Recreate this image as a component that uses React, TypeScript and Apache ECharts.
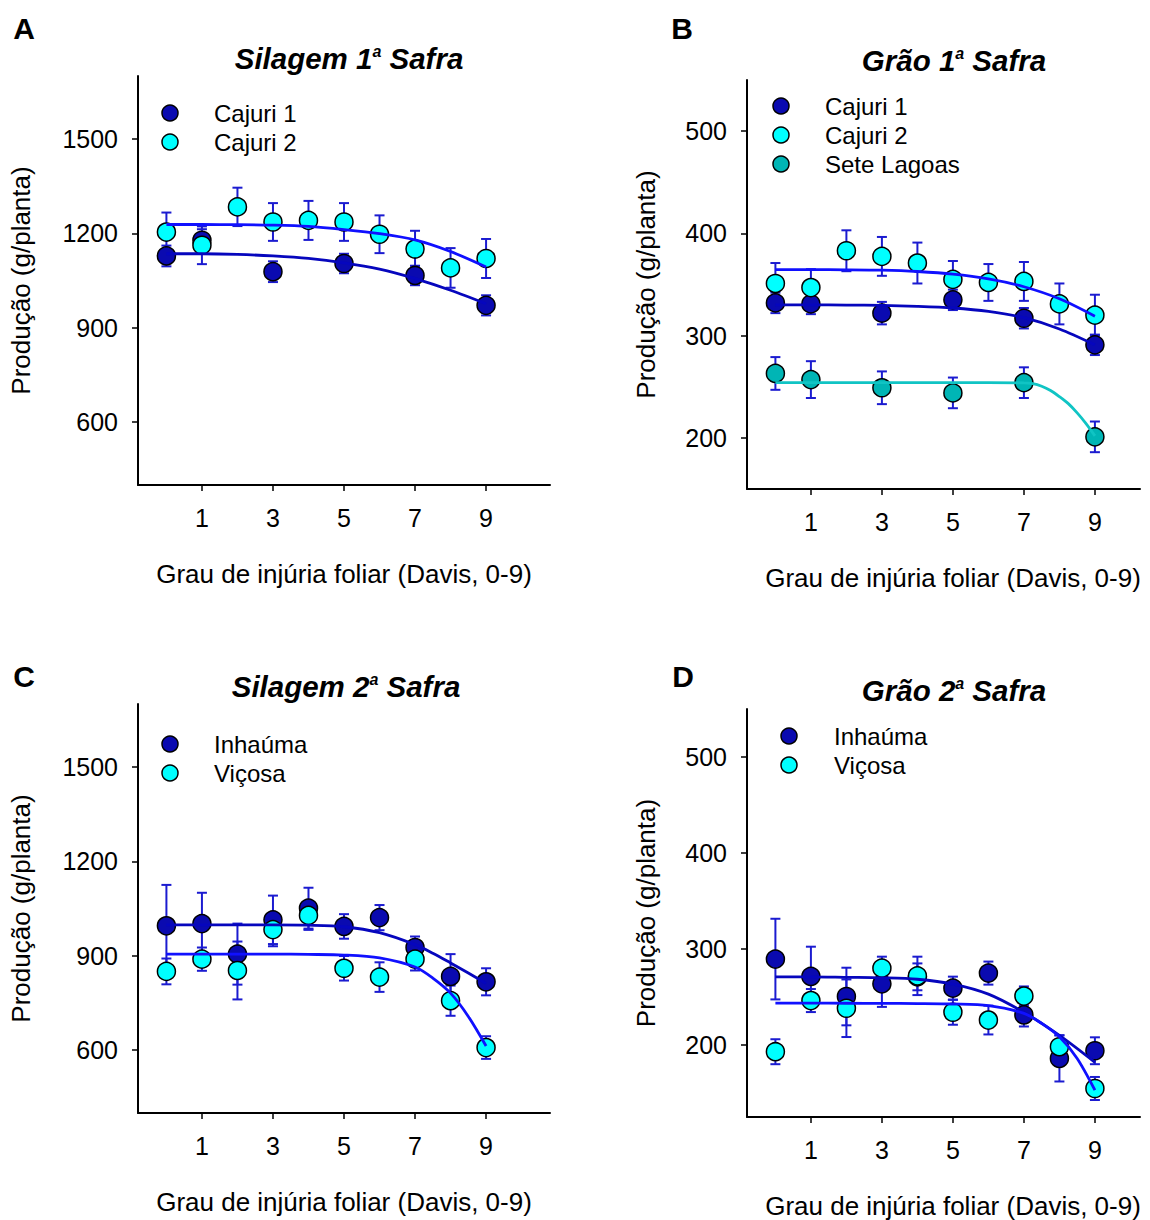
import React, { useEffect, useRef } from "react";
import * as echarts from "echarts";

// ---------- data ----------
const X10 = [0, 1, 2, 3, 4, 5, 6, 7, 8, 9];
const X6 = [0, 1, 3, 5, 7, 9];
const xTickValues = [1, 3, 5, 7, 9];

// Panel A – Silagem 1ª Safra
const aYTicks = [600, 900, 1200, 1500];
const aCajuri1Y = [1128, 1178, 1078, 1104, 1066, 971];
const aCajuri1Err = [33, 35, 33, 31, 31, 32];
const aCajuri2Y = [1204, 1162, 1284, 1236, 1241, 1236, 1197, 1150, 1090, 1120];
const aCajuri2Err = [62, 60, 61, 60, 62, 60, 60, 58, 63, 62];
const aFitCajuri1 = [1135, 1135, 1133, 1128, 1120, 1106, 1086, 1056, 1019, 976];
const aFitCajuri2 = [1228, 1228, 1227.5, 1226, 1222, 1212, 1199, 1179, 1142, 1093];

// Panel B – Grão 1ª Safra
const bYTicks = [200, 300, 400, 500];
const bCajuri1Y = [332, 331, 322, 335, 317, 291];
const bCajuri1Err = [10, 10, 11, 10, 10, 10];
const bCajuri2Y = [351, 347, 383, 377.5, 371, 355, 352, 353, 331, 320];
const bCajuri2Err = [20, 18, 20, 19, 20, 18, 18, 19, 20, 20];
const bSeteY = [263, 257, 249, 244, 254, 201];
const bSeteErr = [16, 18, 16, 15, 15, 15];
const bFitCajuri1 = [330, 330, 329.9, 329.5, 328.6, 327, 323.7, 317.5, 306.5, 291];
const bFitCajuri2 = [364.5, 364.5, 364.4, 364, 362.7, 360.2, 355.5, 347.8, 336, 319];
const bFitSeteX = [0, 1, 2, 3, 4, 5, 6, 7, 7.25, 7.5, 7.75, 8, 8.25, 8.5, 8.75, 9];
const bFitSete = [254, 254, 254, 254, 254, 254, 254, 253.8, 253, 250.5, 246.3, 240.3, 233.5, 224.5, 214, 202];

// Panel C – Silagem 2ª Safra
const cYTicks = [600, 900, 1200, 1500];
const cInhaumaY = [995, 1002, 905, 1014, 1051, 993, 1021, 926, 834, 817];
const cInhaumaErr = [130, 98, 97, 77, 65, 39, 40, 35, 71, 43];
const cVicosaY = [850, 889, 853, 983, 1028, 860, 832, 889, 757, 608];
const cVicosaErr = [41, 37, 92, 53, 46, 39, 47, 36, 48, 36];
const cFitInhaumaX = [0, 1, 2, 3, 4, 5, 6, 7, 7.5, 8, 8.5, 9];
const cFitInhauma = [998, 998, 998, 998, 997, 992, 973, 935, 908, 877, 845, 812];
const cFitVicosaX = [0, 1, 2, 3, 4, 5, 6, 7, 7.5, 8, 8.5, 9];
const cFitVicosa = [905, 905, 905, 905, 904, 902, 893, 864, 829, 781, 707, 613];

// Panel D – Grão 2ª Safra
const dYTicks = [200, 300, 400, 500];
const dInhaumaY = [289.5, 271.4, 250.5, 263.7, 271, 259.2, 274.9, 231.3, 186, 194];
const dInhaumaErr = [42, 31, 30, 24, 14, 12, 12, 12, 24, 14];
const dVicosaY = [193, 246.3, 238.3, 280, 272, 234.1, 226, 251, 198.2, 154.7];
const dVicosaErr = [13, 12, 30, 12, 20, 13, 15, 10, 12, 12];
const dFitInhaumaX = [0, 1, 2, 3, 4, 5, 6, 7, 8, 9];
const dFitInhauma = [271, 271, 270.5, 270, 268.5, 263.5, 253, 234, 210, 182];
const dFitVicosaX = [0, 1, 2, 3, 4, 5, 6, 7, 7.5, 8, 8.5, 9];
const dFitVicosa = [243.6, 243.6, 243.5, 243.4, 243.2, 242.7, 241, 233, 222.5, 208.5, 186, 153];

// ---------- styles ----------
const FONT = "Liberation Sans, Arial, Helvetica, sans-serif";
const NAVY = "#0a0ab0";
const CYAN = "#00ffff";
const TEAL = "#00b5b5";
const ERR = "#1b1bd0";
const FIT_BRIGHT = "#1010ff";
const FIT_DARK = "#0606bd";
const FIT_TEAL = "#10c4c4";

const X_TITLE = "Grau de injúria foliar (Davis, 0-9)";
const Y_TITLE = "Produção (g/planta)";

function errSeries(xs: number[], ys: number[], errs: number[], gi: number) {
  return {
    type: "custom",
    xAxisIndex: gi,
    yAxisIndex: gi,
    z: 2,
    silent: true,
    data: xs.map((x, i) => [x, ys[i] - errs[i], ys[i] + errs[i]]),
    encode: { x: 0, y: [1, 2] },
    renderItem: (params: any, api: any) => {
      const x = api.value(0);
      const lo = api.coord([x, api.value(1)]);
      const hi = api.coord([x, api.value(2)]);
      const c = 5;
      const st = { stroke: ERR, lineWidth: 2 };
      return {
        type: "group",
        children: [
          { type: "line", shape: { x1: lo[0], y1: lo[1], x2: hi[0], y2: hi[1] }, style: st },
          { type: "line", shape: { x1: hi[0] - c, y1: hi[1], x2: hi[0] + c, y2: hi[1] }, style: st },
          { type: "line", shape: { x1: lo[0] - c, y1: lo[1], x2: lo[0] + c, y2: lo[1] }, style: st },
        ],
      };
    },
  };
}

function dotSeries(name: string, xs: number[], ys: number[], gi: number, color: string, z: number) {
  return {
    type: "scatter",
    name,
    xAxisIndex: gi,
    yAxisIndex: gi,
    z,
    symbol: "circle",
    symbolSize: 18,
    itemStyle: { color, borderColor: "#000", borderWidth: 1.5, opacity: 1 },
    data: xs.map((x, i) => [x, ys[i]]),
  };
}

function fitSeries(xs: number[], ys: number[], gi: number, color: string) {
  return {
    type: "line",
    xAxisIndex: gi,
    yAxisIndex: gi,
    z: 6,
    silent: true,
    symbol: "none",
    showSymbol: false,
    smooth: 0.3,
    lineStyle: { color, width: 2.8 },
    data: xs.map((x, i) => [x, ys[i]]),
  };
}

function xAxisCfg(gi: number, max: number, namePadLeft: number) {
  return {
    type: "value",
    gridIndex: gi,
    min: -0.8,
    max,
    name: X_TITLE,
    nameLocation: "middle",
    nameGap: 76,
    nameTextStyle: { fontFamily: FONT, fontSize: 26, color: "#000", padding: [0, 0, 0, namePadLeft] },
    axisLine: { onZero: false, lineStyle: { color: "#000", width: 2 } },
    axisTick: { show: true, inside: false, length: 6, lineStyle: { color: "#000", width: 1.5 }, customValues: xTickValues },
    axisLabel: { fontFamily: FONT, fontSize: 25, color: "#000", margin: 20, customValues: xTickValues, formatter: (v: number) => String(v) },
    splitLine: { show: false },
  };
}

function yAxisCfg(gi: number, min: number, max: number, ticks: number[], nameGap: number) {
  return {
    type: "value",
    gridIndex: gi,
    min,
    max,
    name: Y_TITLE,
    nameLocation: "middle",
    nameGap,
    nameRotate: 90,
    nameTextStyle: { fontFamily: FONT, fontSize: 26, color: "#000" },
    axisLine: { show: true, onZero: false, lineStyle: { color: "#000", width: 2 } },
    axisTick: { show: true, inside: false, length: 6, lineStyle: { color: "#000", width: 1.5 }, customValues: ticks },
    axisLabel: { fontFamily: FONT, fontSize: 25, color: "#000", margin: 20, customValues: ticks, formatter: (v: number) => String(v) },
    splitLine: { show: false },
  };
}

function titleText(x: number, y: number, main: string, sup: string, rest: string) {
  return {
    type: "text",
    x,
    y,
    style: {
      text: `{t|${main}}{s|${sup}}{t|${rest}}`,
      textAlign: "center",
      textVerticalAlign: "middle",
      rich: {
        t: { fontFamily: FONT, fontSize: 29.5, fontWeight: "bold", fontStyle: "italic", fill: "#000", verticalAlign: "bottom" },
        s: { fontFamily: FONT, fontSize: 16, fontWeight: "bold", fontStyle: "italic", fill: "#000", verticalAlign: "top" },
      },
    },
  };
}

function letter(x: number, y: number, t: string) {
  return {
    type: "text",
    x,
    y,
    style: { text: t, fontFamily: FONT, fontSize: 30, fontWeight: "bold", fill: "#000", textAlign: "center", textVerticalAlign: "middle" },
  };
}

function legendItems(cx: number, tx: number, ys: number[], labels: string[], colors: string[]) {
  const out: any[] = [];
  labels.forEach((lab, i) => {
    out.push({ type: "circle", shape: { cx, cy: ys[i], r: 8 }, style: { fill: colors[i], stroke: "#000", lineWidth: 1.5 } });
    out.push({
      type: "text",
      x: tx,
      y: ys[i],
      style: { text: lab, fontFamily: FONT, fontSize: 24, fill: "#000", textAlign: "left", textVerticalAlign: "middle" },
    });
  });
  return out;
}

export default function App() {
  const ref = useRef<HTMLDivElement>(null);

  useEffect(() => {
    if (!ref.current) return;
    const chart = echarts.init(ref.current, null, { renderer: "svg" });

    const option: any = {
      animation: false,
      backgroundColor: "#fff",
      grid: [
        { left: 138, top: 76, width: 412, height: 409 },
        { left: 747, top: 80, width: 393, height: 409 },
        { left: 138, top: 704, width: 412, height: 409 },
        { left: 747, top: 709, width: 393, height: 409 },
      ],
      xAxis: [xAxisCfg(0, 10.8, 0), xAxisCfg(1, 10.27, 19), xAxisCfg(2, 10.8, 0), xAxisCfg(3, 10.27, 19)],
      yAxis: [
        yAxisCfg(0, 400, 1700, aYTicks, 104),
        yAxisCfg(1, 150, 550, bYTicks, 88),
        yAxisCfg(2, 400, 1700, cYTicks, 104),
        yAxisCfg(3, 125, 550, dYTicks, 88),
      ],
      series: [
        // A
        errSeries(X6, aCajuri1Y, aCajuri1Err, 0),
        errSeries(X10, aCajuri2Y, aCajuri2Err, 0),
        dotSeries("Cajuri 1", X6, aCajuri1Y, 0, NAVY, 4),
        dotSeries("Cajuri 2", X10, aCajuri2Y, 0, CYAN, 5),
        fitSeries(X10, aFitCajuri1, 0, FIT_DARK),
        fitSeries(X10, aFitCajuri2, 0, FIT_BRIGHT),
        // B
        errSeries(X6, bCajuri1Y, bCajuri1Err, 1),
        errSeries(X10, bCajuri2Y, bCajuri2Err, 1),
        errSeries(X6, bSeteY, bSeteErr, 1),
        dotSeries("Cajuri 1", X6, bCajuri1Y, 1, NAVY, 4),
        dotSeries("Cajuri 2", X10, bCajuri2Y, 1, CYAN, 5),
        dotSeries("Sete Lagoas", X6, bSeteY, 1, TEAL, 5),
        fitSeries(X10, bFitCajuri1, 1, FIT_DARK),
        fitSeries(X10, bFitCajuri2, 1, FIT_BRIGHT),
        fitSeries(bFitSeteX, bFitSete, 1, FIT_TEAL),
        // C
        errSeries(X10, cInhaumaY, cInhaumaErr, 2),
        errSeries(X10, cVicosaY, cVicosaErr, 2),
        dotSeries("Inhaúma", X10, cInhaumaY, 2, NAVY, 4),
        dotSeries("Viçosa", X10, cVicosaY, 2, CYAN, 5),
        fitSeries(cFitInhaumaX, cFitInhauma, 2, FIT_DARK),
        fitSeries(cFitVicosaX, cFitVicosa, 2, FIT_BRIGHT),
        // D
        errSeries(X10, dInhaumaY, dInhaumaErr, 3),
        errSeries(X10, dVicosaY, dVicosaErr, 3),
        dotSeries("Inhaúma", X10, dInhaumaY, 3, NAVY, 4),
        dotSeries("Viçosa", X10, dVicosaY, 3, CYAN, 5),
        fitSeries(dFitInhaumaX, dFitInhauma, 3, FIT_DARK),
        fitSeries(dFitVicosaX, dFitVicosa, 3, FIT_BRIGHT),
      ],
      graphic: [
        letter(24, 28, "A"),
        letter(682, 28, "B"),
        letter(24, 676, "C"),
        letter(683, 676, "D"),
        titleText(349, 58, "Silagem 1", "a", " Safra"),
        titleText(954, 60, "Grão 1", "a", " Safra"),
        titleText(346, 686, "Silagem 2", "a", " Safra"),
        titleText(954, 690, "Grão 2", "a", " Safra"),
        ...legendItems(170, 214, [113, 142], ["Cajuri 1", "Cajuri 2"], [NAVY, CYAN]),
        ...legendItems(781, 825, [106, 135, 164], ["Cajuri 1", "Cajuri 2", "Sete Lagoas"], [NAVY, CYAN, TEAL]),
        ...legendItems(170, 214, [744, 773], ["Inhaúma", "Viçosa"], [NAVY, CYAN]),
        ...legendItems(789, 834, [736, 765], ["Inhaúma", "Viçosa"], [NAVY, CYAN]),
      ],
    };

    chart.setOption(option);
    return () => chart.dispose();
  }, []);

  return (
    <div
      ref={ref}
      style={{ position: "absolute", left: 0, top: 0, width: 1150, height: 1220, background: "#fff" }}
    />
  );
}
